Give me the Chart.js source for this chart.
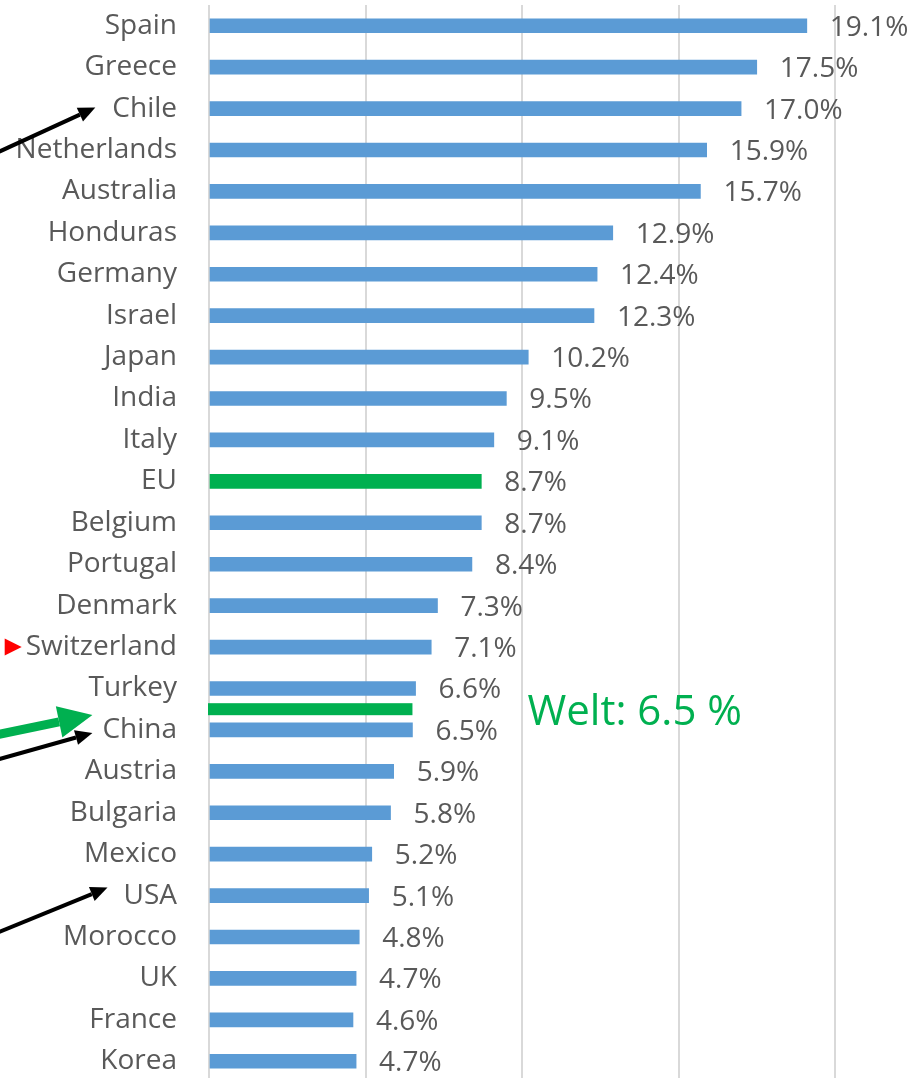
<!DOCTYPE html>
<html>
<head>
<meta charset="utf-8">
<script src="https://cdn.jsdelivr.net/npm/chart.js@4"></script>
<style>
  html, body { margin: 0; padding: 0; background: #fff; overflow: hidden; }
  #wrap { width: 924px; height: 1082px; }
</style>
</head>
<body>
<div id="wrap"><canvas id="c" width="924" height="1082"></canvas></div>
<script>
// Share values per country (percent).
const countries = [
  'Spain', 'Greece', 'Chile', 'Netherlands', 'Australia', 'Honduras', 'Germany',
  'Israel', 'Japan', 'India', 'Italy', 'EU', 'Belgium', 'Portugal', 'Denmark',
  'Switzerland', 'Turkey', 'China', 'Austria', 'Bulgaria', 'Mexico', 'USA',
  'Morocco', 'UK', 'France', 'Korea',
];
const shares = [
  19.1, 17.5, 17.0, 15.9, 15.7, 12.9, 12.4, 12.3, 10.2, 9.5, 9.1, 8.7, 8.7, 8.4,
  7.3, 7.1, 6.6, 6.5, 5.9, 5.8, 5.2, 5.1, 4.8, 4.7, 4.6, 4.7,
];
const highlighted = ['EU'];
const worldValue = 6.5;
const worldLabel = 'Welt: 6.5 %';
const worldBetween = ['Turkey', 'China'];

const BLUE = '#5B9BD5';
const GREEN = '#00B050';
const TEXT = '#595959';
const FONT = '"Open Sans", "DejaVu Sans", sans-serif';

// Arrow annotations pointing at country labels. Tail is given relative to the tip.
const arrows = [
  { label: 'Chile', dx: -17, dy: -1, tail: [-96, 44], color: '#000', width: 4, head: [17, 15] },
  { label: 'China', dx: -10, dy: 3, tail: [-96, 27], color: '#000', width: 4, head: [17, 15] },
  { label: 'USA', dx: -16, dy: -8, tail: [-110, 45], color: '#000', width: 4, head: [17, 15] },
  { label: 'China', dx: -10, dy: -15, tail: [-96, 20], color: GREEN, width: 9, head: [34, 32] },
  { label: 'Switzerland', dx: -4, dy: 0, tail: [-17, 0], color: '#f00', width: 0, head: [17, 17] },
];

function drawArrow(ctx, tx, ty, sx, sy, a) {
  const ang = Math.atan2(ty - sy, tx - sx);
  const [hl, hw] = a.head;
  const bx = tx - hl * Math.cos(ang), by = ty - hl * Math.sin(ang);
  ctx.save();
  if (a.width > 0) {
    ctx.strokeStyle = a.color;
    ctx.lineWidth = a.width;
    ctx.beginPath();
    ctx.moveTo(sx, sy);
    ctx.lineTo(bx, by);
    ctx.stroke();
  }
  ctx.fillStyle = a.color;
  ctx.beginPath();
  ctx.moveTo(tx, ty);
  ctx.lineTo(bx + (hw / 2) * Math.sin(ang), by - (hw / 2) * Math.cos(ang));
  ctx.lineTo(bx - (hw / 2) * Math.sin(ang), by + (hw / 2) * Math.cos(ang));
  ctx.closePath();
  ctx.fill();
  ctx.restore();
}

const annotations = {
  id: 'annotations',
  afterDatasetsDraw(chart) {
    const { ctx, scales: { x, y } } = chart;
    const meta = chart.getDatasetMeta(0);

    // value labels at the bar ends
    ctx.save();
    ctx.font = '28px ' + FONT;
    ctx.fillStyle = TEXT;
    ctx.textBaseline = 'middle';
    ctx.textAlign = 'left';
    meta.data.forEach((bar, i) => {
      ctx.fillText(shares[i].toFixed(1) + '%', bar.x + 23, bar.y + 2);
    });
    ctx.restore();

    // world average line between two rows
    const i0 = countries.indexOf(worldBetween[0]);
    const i1 = countries.indexOf(worldBetween[1]);
    const ly = (y.getPixelForValue(i0) + y.getPixelForValue(i1)) / 2;
    const x0 = x.getPixelForValue(0);
    const x1 = x.getPixelForValue(worldValue);
    ctx.save();
    ctx.fillStyle = GREEN;
    ctx.fillRect(x0 - 1, ly - 6, x1 - x0 + 1, 12);
    ctx.font = '42px ' + FONT;
    ctx.textBaseline = 'alphabetic';
    ctx.fillText(worldLabel, x1 + 115, ly + 16);
    ctx.restore();

    // arrows at the category labels
    ctx.save();
    ctx.font = '28px ' + FONT;
    const labelRight = y.right - 32;
    arrows.forEach((a) => {
      const idx = countries.indexOf(a.label);
      const tx = labelRight - ctx.measureText(a.label).width + a.dx;
      const ty = y.getPixelForValue(idx) + a.dy;
      drawArrow(ctx, tx, ty, tx + a.tail[0], ty + a.tail[1], a);
    });
    ctx.restore();
  },
};

new Chart(document.getElementById('c'), {
  type: 'bar',
  data: {
    labels: countries,
    datasets: [{
      data: shares,
      backgroundColor: countries.map((c) => (highlighted.includes(c) ? GREEN : BLUE)),
      barThickness: 14,
      borderWidth: 0,
    }],
  },
  options: {
    indexAxis: 'y',
    responsive: false,
    animation: false,
    layout: { padding: { top: 5, right: 89, bottom: 0, left: 0 } },
    plugins: { legend: { display: false }, tooltip: { enabled: false } },
    scales: {
      x: {
        min: 0,
        max: 20,
        ticks: { display: false, stepSize: 5 },
        grid: { color: '#d9d9d9', lineWidth: 2, drawTicks: false },
        border: { display: false },
        afterFit: (s) => { s.height = 0; s.paddingLeft = 0; s.paddingRight = 0; },
      },
      y: {
        grid: { display: false, drawTicks: false },
        border: { display: false },
        ticks: {
          autoSkip: false,
          padding: 32,
          color: TEXT,
          font: { family: FONT, size: 28 },
        },
        // fixed label gutter; drop the half-label padding so rows fill the height
        afterFit: (s) => { s.width = 209; s.paddingTop = 0; s.paddingBottom = 0; },
      },
    },
  },
  plugins: [annotations],
});
</script>
</body>
</html>
